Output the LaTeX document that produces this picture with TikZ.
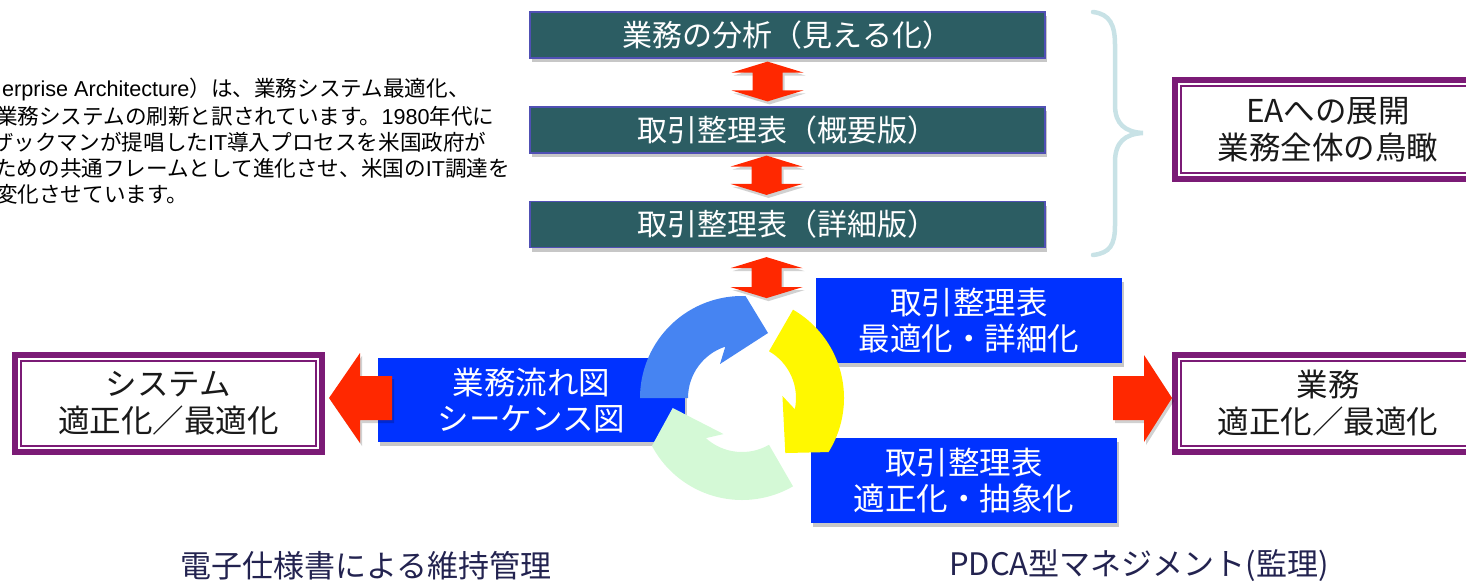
\documentclass[tikz,border=0pt]{standalone}
\usepackage{fontspec}
\setmainfont{Noto Sans CJK JP}
\newfontfamily\lat{Liberation Sans}
\usetikzlibrary{shadows,calc}
\definecolor{teal1}{RGB}{44,93,99}
\definecolor{tealedge}{RGB}{80,80,180}
\definecolor{bblue}{RGB}{0,50,255}
\definecolor{rarr}{RGB}{255,40,0}
\definecolor{purp}{RGB}{123,27,118}
\definecolor{brc}{RGB}{200,226,230}
\definecolor{cblue}{RGB}{70,132,242}
\definecolor{cyel}{RGB}{255,248,0}
\definecolor{cgrn}{RGB}{212,249,214}
\definecolor{navy}{RGB}{35,35,80}
\tikzset{
 shd/.style={drop shadow={shadow xshift=2pt, shadow yshift=-4pt, opacity=0.22, fill=black}},
 tealbox/.style={shd, fill=teal1, draw=tealedge, line width=1.2pt, minimum width=515pt, minimum height=46pt, inner sep=0pt, text=white, font=\fontsize{30}{34}\selectfont},
 bluebox/.style={shd, fill=bblue, minimum width=306pt, minimum height=85pt, inner sep=0pt, text=white, align=center, font=\fontsize{31.5}{36}\selectfont},
 purpbox/.style={draw=purp, fill=white, line width=6pt, outer sep=0pt, inner sep=0pt, minimum width=307pt, minimum height=97pt, align=center, text=black!90, font=\fontsize{31.5}{37}\selectfont},
 redarr/.style={fill=rarr, drop shadow={shadow xshift=2pt, shadow yshift=-3pt, opacity=0.18, fill=black}},
 para/.style={anchor=west, inner sep=0pt, font=\fontsize{21.6}{26}\selectfont},
 caption/.style={inner sep=0pt, text=navy, font=\fontsize{31}{31}\selectfont},
}
\newcommand\innerline[1]{\draw[purp, line width=1.6pt] ([shift={(6pt,-6pt)}]#1.north west) rectangle ([shift={(-6pt,6pt)}]#1.south east);}
\newcommand\vdarrow[2]{\fill[redarr] (#1) -- ($(#1)+(36,11)$) -- ($(#1)+(15,11)$) -- ($(#2)+(15,-11)$) -- ($(#2)+(36,-11)$) -- (#2) -- ($(#2)+(-36,-11)$) -- ($(#2)+(-15,-11)$) -- ($(#1)+(-15,11)$) -- ($(#1)+(-36,11)$) -- cycle;}
\newcommand\cycarrow[2]{\begin{scope}[shift={(742,398)}, rotate=#1, yscale=-1]
\fill[#2] (180:102) arc[start angle=180, end angle=88, radius=102] -- (26,65) -- (-22,34) -- (108:54) arc[start angle=108, end angle=180, radius=54] -- cycle;
\end{scope}}
\begin{document}
\begin{tikzpicture}[x=1pt,y=-1pt]
\useasboundingbox (0,0) rectangle (1466,582);
\clip (0,0) rectangle (1466,582);
% paragraph
\node[para] (p1) at (2,89) {{\lat erprise Architecture}）は、業務システム最適化、};
\node[para] (p2) at (-4,116) {業務システムの刷新と訳されています。{\lat 1980}年代に};
\node[para] (p3) at (-8,142) {ザックマンが提唱した{\lat IT}導入プロセスを米国政府が};
\node[para] (p4) at (-5,168) {ための共通フレームとして進化させ、米国の{\lat IT}調達を};
\node[para] (p5) at (-4,194) {変化させています。};
% top boxes
\node[tealbox] (b1) at (787.5,35) {業務の分析（見える化）};
\node[tealbox] (b2) at (787.5,130) {取引整理表（概要版）};
\node[tealbox] (b3) at (787.5,224.5) {取引整理表（詳細版）};
\coordinate (a1t) at ($(b1.south)+(-20,3)$);
\coordinate (a1b) at ($(b2.north)+(-20,-5)$);
\coordinate (a2t) at ($(b2.south)+(-21,2)$);
\coordinate (a2b) at ($(b3.north)+(-21,-6)$);
\coordinate (a3t) at ($(b3.south)+(-21,9)$);
\coordinate (a3b) at ($(b3.south)+(-21,50)$);
\vdarrow{a1t}{a1b}
\vdarrow{a2t}{a2b}
\vdarrow{a3t}{a3b}
% brace
\draw[brc, line width=4.5pt, line cap=round] (1093,12) .. controls (1110,14) and (1115,25) .. (1115,45) -- (1115,105) .. controls (1115,124) and (1125,132) .. (1143,133) .. controls (1125,134) and (1115,142) .. (1115,162) -- (1115,225) .. controls (1115,245) and (1110,253) .. (1093,255);
% EA box
\node[purpbox, minimum width=306pt, minimum height=99pt] (ea) at (1328,129.5) {EAへの展開\\業務全体の鳥瞰};
\innerline{ea}
% middle row
\node[bluebox, minimum width=307pt, minimum height=84pt] (flow) at (531.5,400) {業務流れ図\\シーケンス図};
\node[purpbox] (sys) at (168.5,403.5) {システム\\適正化／最適化};
\innerline{sys}
\coordinate (lt) at ($(sys.east)+(7,-5.5)$);
\fill[redarr] (lt) -- ($(lt)+(31,-45)$) -- ($(lt)+(31,-22)$) -- ($(lt)+(63,-22)$) -- ($(lt)+(63,22)$) -- ($(lt)+(31,22)$) -- ($(lt)+(31,45)$) -- cycle;
\node[bluebox] (t1) at (969,320.5) {取引整理表\\最適化・詳細化};
\node[bluebox, minimum width=306pt] (t2) at (964,480.5) {取引整理表\\適正化・抽象化};
\node[purpbox, minimum width=306pt] (gy) at (1328,403.5) {業務\\適正化／最適化};
\innerline{gy}
\coordinate (rt) at ($(gy.west)+(-3,-5.5)$);
\fill[redarr] (rt) -- ($(rt)+(-28,-43)$) -- ($(rt)+(-28,-22)$) -- ($(rt)+(-59,-22)$) -- ($(rt)+(-59,22)$) -- ($(rt)+(-28,22)$) -- ($(rt)+(-28,44)$) -- cycle;
% cycle arrows
\cycarrow{0}{cblue}
\cycarrow{-120}{cyel}
\cycarrow{-240}{cgrn}
% captions
\node[caption] (c1) at (366,566) {電子仕様書による維持管理};
\node[caption] (c2) at (1139,566) {PDCA型マネジメント(監理)};
\end{tikzpicture}
\end{document}
